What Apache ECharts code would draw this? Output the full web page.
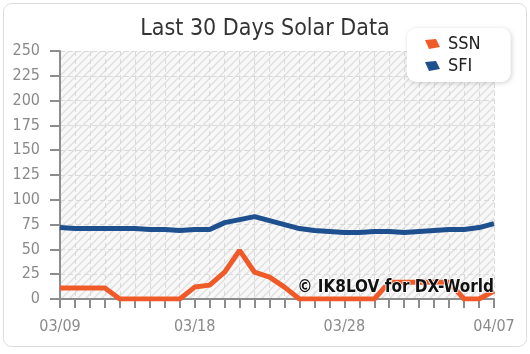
<!DOCTYPE html>
<html>
<head>
<meta charset="utf-8">
<script src="https://cdn.jsdelivr.net/npm/echarts@6/dist/echarts.min.js"></script>
<style>
  html, body { margin: 0; padding: 0; background: #fff; }
  #chart { width: 530px; height: 354px; }
</style>
</head>
<body>
<div id="chart"></div>
<script>
var days = ['03/09','03/10','03/11','03/12','03/13','03/14','03/15','03/16','03/17','03/18',
  '03/19','03/20','03/21','03/22','03/23','03/24','03/25','03/26','03/27','03/28',
  '03/29','03/30','03/31','04/01','04/02','04/03','04/04','04/05','04/06','04/07']
var ssn = [11, 11, 11, 11, 0, 0, 0, 0, 0, 12, 14, 27, 49, 27, 22, 12, 0, 0, 0, 0,
  0, 0, 17, 17, 17, 17, 17, 0, 0, 8]
var sfi = [72, 71, 71, 71, 71, 71, 70, 70, 69, 70, 70, 77, 80, 83, 79, 75, 71, 69, 68, 67,
  67, 68, 68, 67, 68, 69, 70, 70, 72, 76]
var labelDays = ['03/09', '03/18', '03/28', '04/07']

var FONT = '"DejaVu Sans Condensed", "DejaVu Sans", sans-serif'

// hatched plot background
function hatch() {
  var c = document.createElement('canvas')
  c.width = 8
  c.height = 8
  var ctx = c.getContext('2d')
  ctx.fillStyle = '#f8f8f8'
  ctx.fillRect(0, 0, 8, 8)
  ctx.strokeStyle = '#dedede'
  ctx.lineWidth = 1.3
  ctx.beginPath()
  ctx.moveTo(0, 8); ctx.lineTo(8, 0)
  ctx.moveTo(-2, 2); ctx.lineTo(2, -2)
  ctx.moveTo(6, 10); ctx.lineTo(10, 6)
  ctx.stroke()
  return c
}

var chart = echarts.init(document.getElementById('chart'))
chart.setOption({
  animation: false,
  title: {
    text: 'Last 30 Days Solar Data',
    left: 'center',
    top: 13,
    textStyle: { fontFamily: FONT, fontSize: 23, fontWeight: 'normal', color: '#333' }
  },
  legend: {
    orient: 'vertical',
    left: 407,
    top: 28,
    padding: [7, 30, 7, 18],
    itemGap: 4,
    itemWidth: 21,
    itemHeight: 10,
    icon: 'path://M0,1 L11,0 L15,8 L4,10 Z',
    backgroundColor: '#fff',
    borderRadius: 9,
    shadowBlur: 5,
    shadowOffsetX: 1,
    shadowOffsetY: 1,
    shadowColor: 'rgba(0,0,0,0.18)',
    textStyle: { fontFamily: FONT, fontSize: 18, color: '#222' },
    data: ['SSN', 'SFI']
  },
  grid: {
    left: 60, right: 36, top: 51, bottom: 55,
    show: true,
    borderWidth: 0,
    backgroundColor: { image: hatch(), repeat: 'repeat' }
  },
  xAxis: {
    type: 'category',
    data: days,
    boundaryGap: false,
    axisLine: { lineStyle: { color: '#8c8c8c', width: 2 } },
    axisTick: { interval: 0, length: 9, lineStyle: { color: '#8c8c8c', width: 2 } },
    axisLabel: {
      interval: function (i, v) { return labelDays.indexOf(v) >= 0 },
      margin: 20,
      fontFamily: FONT,
      fontSize: 16,
      color: '#8a8a8a'
    },
    splitLine: { show: true, interval: 0, lineStyle: { color: '#dadada', type: [5, 3] } }
  },
  yAxis: {
    type: 'value',
    min: 0,
    max: 250,
    interval: 25,
    axisLine: { show: true, lineStyle: { color: '#8c8c8c', width: 2 } },
    axisTick: { show: true, length: 10, lineStyle: { color: '#8c8c8c', width: 2 } },
    axisLabel: { margin: 20, fontFamily: FONT, fontSize: 16, color: '#8a8a8a' },
    splitLine: { show: true, lineStyle: { color: '#dadada', type: [5, 3] } }
  },
  series: [{
    name: 'SSN',
    type: 'line',
    data: ssn,
    showSymbol: false,
    color: '#f05a28',
    lineStyle: { width: 5, color: '#f05a28' },
    z: 3
  }, {
    name: 'SFI',
    type: 'line',
    data: sfi,
    showSymbol: false,
    color: '#1e4f8e',
    lineStyle: { width: 5, color: '#1e4f8e' },
    z: 3
  }],
  graphic: [{
    type: 'rect',
    silent: true,
    z: -10,
    shape: { x: 3.5, y: 3.5, width: 523, height: 343, r: 8 },
    style: { fill: 'none', stroke: '#dcdcdc', lineWidth: 1 }
  }, {
    type: 'text',
    silent: true,
    z: 100,
    x: 494,
    y: 288,
    style: {
      text: '\u00a9 IK8LOV for DX-World',
      font: 'bold 17px ' + FONT,
      fill: '#111',
      stroke: '#fff',
      lineWidth: 1.5,
      textAlign: 'right',
      textVerticalAlign: 'middle'
    }
  }]
})
</script>
</body>
</html>
